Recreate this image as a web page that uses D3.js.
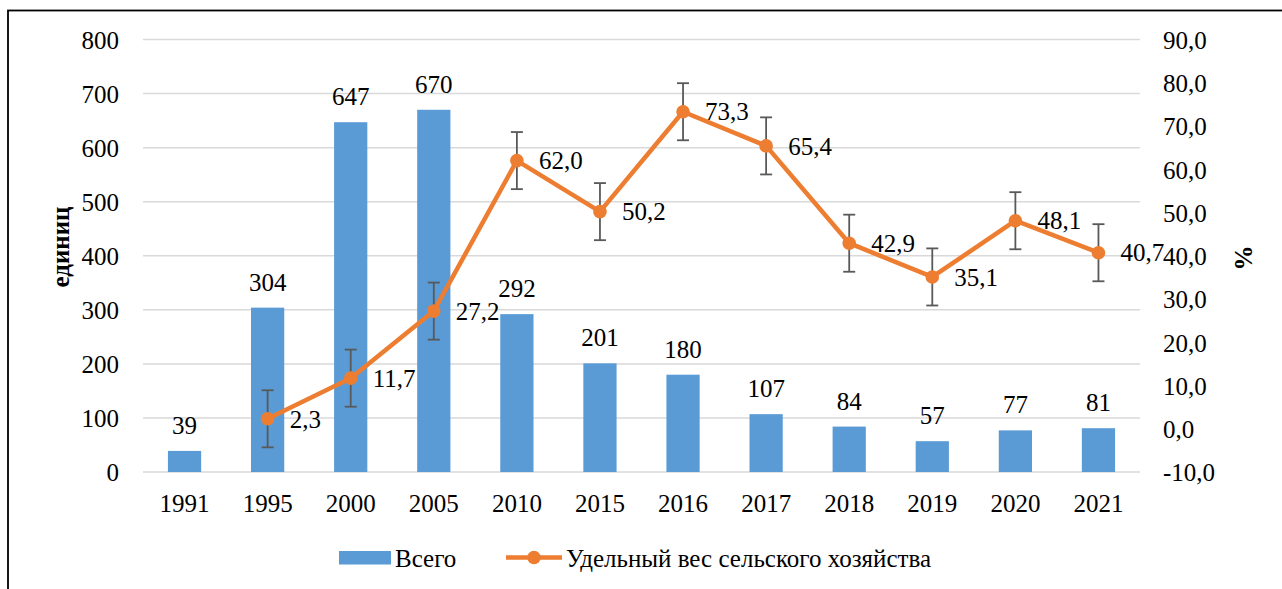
<!DOCTYPE html>
<html><head><meta charset="utf-8">
<script src="https://cdn.jsdelivr.net/npm/d3@7/dist/d3.min.js"></script>
<style>
html,body{margin:0;padding:0;background:#fff;}
</style></head>
<body>
<svg id="chart" width="1282" height="589"></svg>
<script>
const years = ["1991","1995","2000","2005","2010","2015","2016","2017","2018","2019","2020","2021"];
const totals = [39,304,647,670,292,201,180,107,84,57,77,81];
const shares = [null,2.3,11.7,27.2,62.0,50.2,73.3,65.4,42.9,35.1,48.1,40.7];
const shareErrors = [null,6.6,6.6,6.6,6.6,6.6,6.6,6.6,6.6,6.6,6.6,6.6];
const leftTicks = [0,100,200,300,400,500,600,700,800];
const rightTicks = [-10,0,10,20,30,40,50,60,70,80,90];
const leftTitle = "единиц";
const rightTitle = "%";
const legendLabels = ["Всего","Удельный вес сельского хозяйства"];

function pickFont(cands){
  const c = document.createElement("canvas").getContext("2d");
  const s = "Удельный вес 1234567890 mmmwwwiii";
  const base = {};
  ["monospace","sans-serif"].forEach(b=>{ c.font = `40px ${b}`; base[b]=c.measureText(s).width; });
  for (const f of cands){
    let ok = true;
    for (const b of ["monospace","sans-serif"]){
      c.font = `40px "${f}", ${b}`;
      if (Math.abs(c.measureText(s).width - base[b]) < 0.5) { ok = false; }
    }
    if (ok) return `"${f}"`;
  }
  return "serif";
}
const FONT = pickFont(["Liberation Serif","Tinos","Times New Roman","Times","DejaVu Serif","Noto Serif","FreeSerif"]);
const isSerif = FONT !== "serif";

const svg = d3.select("#chart").style("font-family", FONT);
const W = 1282, H = 589;
const m = {left:143, right:1140, top:39.5, bottom:472};
const blue = "#5B9BD5", orange = "#ED7D31", grid = "#D9D9D9", errC = "#595959";
const fs = isSerif ? 25 : 24;      // numbers
const fsLeg = isSerif ? 25 : 26.5; // legend text
const fmt = v => v.toFixed(1).replace(".", ",");

svg.append("rect").attr("x",8).attr("y",10.5).attr("width",W+20).attr("height",H+20)
  .attr("fill","none").attr("stroke","#000").attr("stroke-width",1.8);

const x = d3.scaleBand().domain(years).range([m.left,m.right]).paddingInner(0.6).paddingOuter(0.3);
const yL = d3.scaleLinear().domain([0,800]).range([m.bottom,m.top]);
const yR = d3.scaleLinear().domain([-10,90]).range([m.bottom,m.top]);

svg.append("g").selectAll("line").data(leftTicks).join("line")
  .attr("x1",m.left).attr("x2",m.right)
  .attr("y1",d=>yL(d)).attr("y2",d=>yL(d))
  .attr("stroke",grid).attr("stroke-width",1.5);

function styleAxis(g){
  g.attr("font-family",null).attr("font-size",null);
  g.select(".domain").remove();
  g.selectAll("text").style("font-family",FONT).attr("font-size",fs).attr("fill","#000");
}

const gL = svg.append("g").attr("transform",`translate(119,0)`)
  .call(d3.axisLeft(yL).tickValues(leftTicks).tickSize(0).tickPadding(0).tickFormat(d=>d));
styleAxis(gL);
gL.selectAll("text").attr("text-anchor","end").attr("dy","0.35em");

const gR = svg.append("g").attr("transform",`translate(1163,0)`)
  .call(d3.axisRight(yR).tickValues(rightTicks).tickSize(0).tickPadding(0).tickFormat(fmt));
styleAxis(gR);
gR.selectAll("text").attr("text-anchor","start").attr("dy","0.35em");

const gB = svg.append("g").attr("transform",`translate(0,${m.bottom})`)
  .call(d3.axisBottom(x).tickSize(0).tickPadding(0));
styleAxis(gB);
gB.selectAll("text").attr("dy",null).attr("y",40);

svg.append("g").selectAll("rect").data(years).join("rect")
  .attr("x",d=>x(d)).attr("width",x.bandwidth())
  .attr("y",(d,i)=>yL(totals[i])).attr("height",(d,i)=>yL(0)-yL(totals[i]))
  .attr("fill",blue);

svg.append("g").selectAll("text").data(years).join("text")
  .attr("x",d=>x(d)+x.bandwidth()/2).attr("y",(d,i)=>yL(totals[i])-17)
  .attr("text-anchor","middle").attr("font-size",fs).attr("fill","#000")
  .text((d,i)=>totals[i]);

const pts = years.map((d,i)=>({year:d,v:shares[i],e:shareErrors[i]})).filter(p=>p.v!==null);
const cx = d => x(d.year)+x.bandwidth()/2;

svg.append("path").datum(pts)
  .attr("d",d3.line().x(cx).y(d=>yR(d.v)))
  .attr("fill","none").attr("stroke",orange).attr("stroke-width",4.5).attr("stroke-linejoin","round");

const eg = svg.append("g").attr("stroke",errC).attr("stroke-width",1.8).attr("fill","none");
pts.forEach(p=>{
  const X = cx(p), t = yR(p.v+p.e), b = yR(p.v-p.e);
  eg.append("line").attr("x1",X).attr("x2",X).attr("y1",t).attr("y2",b);
  eg.append("line").attr("x1",X-6).attr("x2",X+6).attr("y1",t).attr("y2",t);
  eg.append("line").attr("x1",X-6).attr("x2",X+6).attr("y1",b).attr("y2",b);
});

svg.append("g").selectAll("circle").data(pts).join("circle")
  .attr("cx",cx).attr("cy",d=>yR(d.v)).attr("r",6.8).attr("fill",orange);

svg.append("g").selectAll("text").data(pts).join("text")
  .attr("x",d=>cx(d)+22).attr("y",d=>yR(d.v)).attr("dy","0.35em")
  .attr("font-size",fs).attr("fill","#000").text(d=>fmt(d.v));

svg.append("text").attr("transform","translate(69,247) rotate(-90)")
  .attr("text-anchor","middle").attr("font-size",25).attr("font-weight","bold").text(leftTitle);
svg.append("text").attr("transform","translate(1252,258) rotate(-90)")
  .attr("text-anchor","middle").attr("font-size",25).attr("font-weight","bold").text(rightTitle);

const lg = svg.append("g");
lg.append("rect").attr("x",339).attr("y",551).attr("width",52).attr("height",13.5).attr("fill",blue);
lg.append("text").attr("x",395).attr("y",567).attr("font-size",fsLeg).text(legendLabels[0]);
lg.append("line").attr("x1",506).attr("x2",562).attr("y1",557.5).attr("y2",557.5)
  .attr("stroke",orange).attr("stroke-width",4.5);
lg.append("circle").attr("cx",534).attr("cy",557.5).attr("r",6.8).attr("fill",orange);
lg.append("text").attr("x",566).attr("y",567).attr("font-size",fsLeg).text(legendLabels[1]);
</script>
</body></html>
